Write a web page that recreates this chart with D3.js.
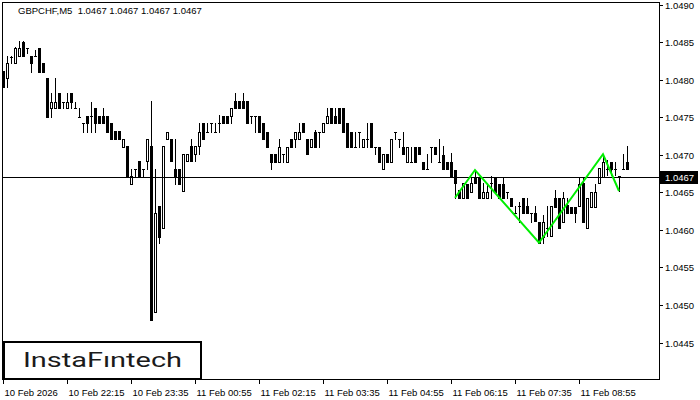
<!DOCTYPE html>
<html><head><meta charset="utf-8">
<script src="https://cdn.jsdelivr.net/npm/d3@7"></script>
<style>html,body{margin:0;padding:0;background:#fff;}svg{display:block;}</style>
</head><body>
<svg id="c" width="700" height="400"></svg>
<script>
const opens = [1.04812,1.04803,1.04831,1.04823,1.04832,1.04851,1.04843,1.04832,1.04832,1.04843,1.04823,1.04803,1.04763,1.04763,1.04783,1.04771,1.04763,1.04783,1.04763,1.04751,1.04743,1.04752,1.04752,1.04763,1.04752,1.04752,1.04752,1.04743,1.04732,1.04732,1.04711,1.04712,1.04661,1.04681,1.04692,1.04681,1.04692,1.04712,1.04491,1.04632,1.04603,1.04721,1.04721,1.04681,1.04681,1.04652,1.04692,1.04712,1.04701,1.04712,1.04743,1.04731,1.04743,1.04731,1.04743,1.04752,1.04752,1.04752,1.04772,1.04772,1.04772,1.04772,1.04752,1.04752,1.04752,1.04743,1.04731,1.04701,1.04701,1.04691,1.04701,1.04691,1.04721,1.04721,1.04721,1.04743,1.04721,1.04711,1.04731,1.04731,1.04731,1.04743,1.04763,1.04752,1.04763,1.04763,1.04743,1.04731,1.04711,1.04731,1.04711,1.04721,1.04743,1.04711,1.04711,1.04681,1.04701,1.04691,1.04731,1.04721,1.04711,1.04691,1.04691,1.04711,1.04711,1.04691,1.04681,1.04711,1.04711,1.04691,1.04700,1.04691,1.04691,1.04680,1.04653,1.04643,1.04661,1.04651,1.04671,1.04671,1.04643,1.04643,1.04663,1.04671,1.04661,1.04661,1.04651,1.04643,1.04623,1.04632,1.04643,1.04632,1.04623,1.04623,1.04611,1.04591,1.04603,1.04592,1.04643,1.04643,1.04611,1.04633,1.04631,1.04631,1.04632,1.04663,1.04603,1.04631,1.04631,1.04663,1.04671,1.04681,1.04691,1.04681,1.04672,1.04681,1.04691];
const highs = [1.04812,1.04832,1.04832,1.04844,1.04852,1.04852,1.04843,1.04832,1.04840,1.04843,1.04823,1.04803,1.04783,1.04803,1.04783,1.04771,1.04783,1.04783,1.04771,1.04763,1.04743,1.04752,1.04771,1.04763,1.04752,1.04763,1.04752,1.04743,1.04732,1.04732,1.04721,1.04712,1.04681,1.04681,1.04692,1.04681,1.04721,1.04772,1.04681,1.04632,1.04712,1.04731,1.04721,1.04721,1.04681,1.04701,1.04701,1.04721,1.04712,1.04743,1.04743,1.04743,1.04743,1.04743,1.04753,1.04752,1.04752,1.04763,1.04783,1.04772,1.04783,1.04772,1.04752,1.04752,1.04752,1.04743,1.04731,1.04701,1.04701,1.04721,1.04701,1.04711,1.04721,1.04731,1.04743,1.04743,1.04721,1.04721,1.04733,1.04731,1.04743,1.04763,1.04763,1.04763,1.04763,1.04763,1.04743,1.04731,1.04731,1.04731,1.04721,1.04743,1.04743,1.04711,1.04711,1.04701,1.04701,1.04721,1.04731,1.04721,1.04731,1.04711,1.04711,1.04711,1.04711,1.04691,1.04701,1.04711,1.04711,1.04721,1.04712,1.04691,1.04703,1.04680,1.04653,1.04663,1.04661,1.04671,1.04680,1.04671,1.04663,1.04663,1.04672,1.04671,1.04661,1.04671,1.04651,1.04643,1.04632,1.04637,1.04643,1.04643,1.04623,1.04632,1.04611,1.04620,1.04632,1.04632,1.04653,1.04643,1.04651,1.04643,1.04631,1.04631,1.04671,1.04671,1.04643,1.04651,1.04661,1.04683,1.04701,1.04693,1.04691,1.04691,1.04672,1.04701,1.04712];
const lows = [1.04791,1.04791,1.04823,1.04823,1.04832,1.04832,1.04836,1.04811,1.04832,1.04811,1.04811,1.04751,1.04751,1.04763,1.04763,1.04763,1.04763,1.04763,1.04763,1.04751,1.04731,1.04731,1.04731,1.04731,1.04743,1.04743,1.04731,1.04721,1.04721,1.04721,1.04711,1.04672,1.04661,1.04672,1.04672,1.04672,1.04681,1.04480,1.04491,1.04583,1.04603,1.04721,1.04692,1.04661,1.04661,1.04652,1.04692,1.04692,1.04692,1.04701,1.04721,1.04731,1.04731,1.04731,1.04731,1.04743,1.04743,1.04743,1.04763,1.04763,1.04763,1.04743,1.04743,1.04731,1.04731,1.04721,1.04711,1.04681,1.04691,1.04691,1.04691,1.04691,1.04711,1.04711,1.04721,1.04731,1.04701,1.04711,1.04711,1.04711,1.04731,1.04743,1.04743,1.04743,1.04743,1.04731,1.04711,1.04711,1.04711,1.04711,1.04711,1.04711,1.04711,1.04701,1.04691,1.04681,1.04691,1.04691,1.04721,1.04711,1.04701,1.04691,1.04691,1.04691,1.04701,1.04681,1.04681,1.04691,1.04701,1.04691,1.04681,1.04681,1.04671,1.04643,1.04643,1.04643,1.04643,1.04651,1.04663,1.04643,1.04643,1.04643,1.04643,1.04651,1.04643,1.04643,1.04643,1.04632,1.04623,1.04611,1.04623,1.04623,1.04611,1.04612,1.04583,1.04583,1.04592,1.04592,1.04631,1.04603,1.04611,1.04623,1.04623,1.04611,1.04632,1.04611,1.04603,1.04631,1.04631,1.04663,1.04671,1.04673,1.04673,1.04673,1.04652,1.04681,1.04681];
const closes = [1.04791,1.04823,1.04831,1.04843,1.04843,1.04832,1.04843,1.04823,1.04832,1.04811,1.04811,1.04751,1.04771,1.04771,1.04763,1.04771,1.04771,1.04771,1.04763,1.04751,1.04743,1.04743,1.04752,1.04743,1.04743,1.04743,1.04731,1.04721,1.04721,1.04721,1.04721,1.04672,1.04672,1.04681,1.04672,1.04681,1.04721,1.04480,1.04623,1.04591,1.04712,1.04731,1.04692,1.04672,1.04661,1.04701,1.04701,1.04692,1.04712,1.04731,1.04721,1.04731,1.04743,1.04731,1.04743,1.04743,1.04743,1.04763,1.04763,1.04763,1.04763,1.04743,1.04752,1.04752,1.04731,1.04721,1.04711,1.04691,1.04691,1.04711,1.04701,1.04711,1.04711,1.04731,1.04731,1.04731,1.04701,1.04721,1.04711,1.04731,1.04743,1.04752,1.04743,1.04743,1.04743,1.04731,1.04711,1.04711,1.04711,1.04731,1.04721,1.04721,1.04711,1.04711,1.04691,1.04701,1.04691,1.04721,1.04731,1.04721,1.04701,1.04711,1.04691,1.04691,1.04701,1.04681,1.04681,1.04711,1.04701,1.04691,1.04681,1.04681,1.04671,1.04663,1.04643,1.04663,1.04643,1.04663,1.04663,1.04643,1.04651,1.04651,1.04663,1.04651,1.04643,1.04643,1.04651,1.04632,1.04623,1.04632,1.04623,1.04623,1.04623,1.04612,1.04583,1.04611,1.04603,1.04632,1.04631,1.04603,1.04643,1.04623,1.04623,1.04623,1.04661,1.04611,1.04643,1.04651,1.04651,1.04683,1.04691,1.04681,1.04681,1.04681,1.04672,1.04681,1.04681];

const yTicks = [1.0445,1.0450,1.0455,1.0460,1.0465,1.0470,1.0475,1.0480,1.0485,1.0490];
const xTickIdx = [0,16,32,48,64,80,96,112,128,144];
const xTickLabels = ["10 Feb 2026","10 Feb 22:15","10 Feb 23:35","11 Feb 00:55","11 Feb 02:15","11 Feb 03:35","11 Feb 04:55","11 Feb 06:15","11 Feb 07:35","11 Feb 08:55"];
const patternIdx = [113,118,134,150,154];
const patternPrice = [1.04643,1.04680,1.04583,1.04701,1.04652];
const currentPrice = 1.0467;
const titleText = "GBPCHF,M5  1.0467 1.0467 1.0467 1.0467";

const svg = d3.select("#c");
const L = 2, R = 659, T = 2, B = 379;
const x = d3.scaleLinear().domain([0, 156]).range([3, 627]);
const y = d3.scaleLinear().domain([1.0445, 1.0490]).range([342.5, 5]);
const font = "'Liberation Sans', Arial, sans-serif";

svg.append("rect").attr("x",0).attr("y",0).attr("width",700).attr("height",400).attr("fill","#fff");

// candles
const g = svg.append("g").attr("shape-rendering","crispEdges");
opens.forEach((o, i) => {
  const cx = Math.round(x(i));
  const yo = Math.round(y(o)), yc = Math.round(y(closes[i]));
  const yh = Math.round(y(highs[i])), yl = Math.round(y(lows[i]));
  g.append("rect").attr("x",cx).attr("y",yh).attr("width",1).attr("height",Math.max(1,yl-yh+1)).attr("fill","#000");
  const top = Math.min(yo,yc), bot = Math.max(yo,yc);
  g.append("rect").attr("x",cx-1).attr("y",top).attr("width",3).attr("height",bot-top+1).attr("fill","#000");
  if (closes[i] > o && bot - top >= 2) {
    g.append("rect").attr("x",cx).attr("y",top+1).attr("width",1).attr("height",bot-top-1).attr("fill","#fff");
  }
});

// current price line
svg.append("line").attr("x1",L).attr("x2",R).attr("y1",Math.round(y(currentPrice))+0.5).attr("y2",Math.round(y(currentPrice))+0.5)
  .attr("stroke","#000").attr("stroke-width",1);

// pattern
svg.append("path")
  .attr("d", d3.line().x((d,k)=>x(d)).y((d,k)=>y(patternPrice[k]))(patternIdx))
  .attr("fill","none").attr("stroke","#00ee00").attr("stroke-width",2).attr("stroke-linejoin","miter");

// frame
svg.append("rect").attr("x",L+0.5).attr("y",T+0.5).attr("width",R-L).attr("height",B-T)
  .attr("fill","none").attr("stroke","#000").attr("stroke-width",1);

// y axis
const ya = svg.append("g");
yTicks.forEach(t => {
  const yy = Math.round(y(t)) + 0.5;
  ya.append("line").attr("x1",R).attr("x2",R+4).attr("y1",yy).attr("y2",yy).attr("stroke","#000");
  ya.append("text").attr("x",665).attr("y",yy+3.5).attr("font-family",font).attr("font-size",9.5)
    .attr("fill","#000").text(d3.format(".4f")(t));
});
// current price label
const cy = Math.round(y(currentPrice));
svg.append("rect").attr("x",660).attr("y",cy-6).attr("width",38).attr("height",13).attr("fill","#000");
svg.append("text").attr("x",665).attr("y",cy+4).attr("font-family",font).attr("font-size",9.5)
  .attr("fill","#fff").text(d3.format(".4f")(currentPrice));

// x axis
const xa = svg.append("g");
xTickIdx.forEach((idx,k) => {
  const xx = Math.round(x(idx)) + 0.5;
  xa.append("line").attr("x1",xx).attr("x2",xx).attr("y1",B).attr("y2",B+5).attr("stroke","#000");
  xa.append("text").attr("x",xx+1).attr("y",396).attr("font-family",font).attr("font-size",9.5)
    .attr("fill","#000").text(xTickLabels[k]);
});

// title
svg.append("text").attr("x",18).attr("y",14).attr("font-family",font).attr("font-size",9.5)
  .attr("fill","#000").attr("xml:space","preserve").style("white-space","pre").text(titleText);

// logo
svg.append("rect").attr("x",4).attr("y",342).attr("width",197).attr("height",37)
  .attr("fill","#fff").attr("stroke","#000").attr("stroke-width",2);
svg.append("text").attr("x",23).attr("y",367).attr("font-family","Roboto, sans-serif").attr("font-weight",400)
  .attr("font-size",21).attr("textLength",159).attr("lengthAdjust","spacingAndGlyphs")
  .attr("fill","#1a1a1a").text("InstaFıntech");
</script>
</body></html>
